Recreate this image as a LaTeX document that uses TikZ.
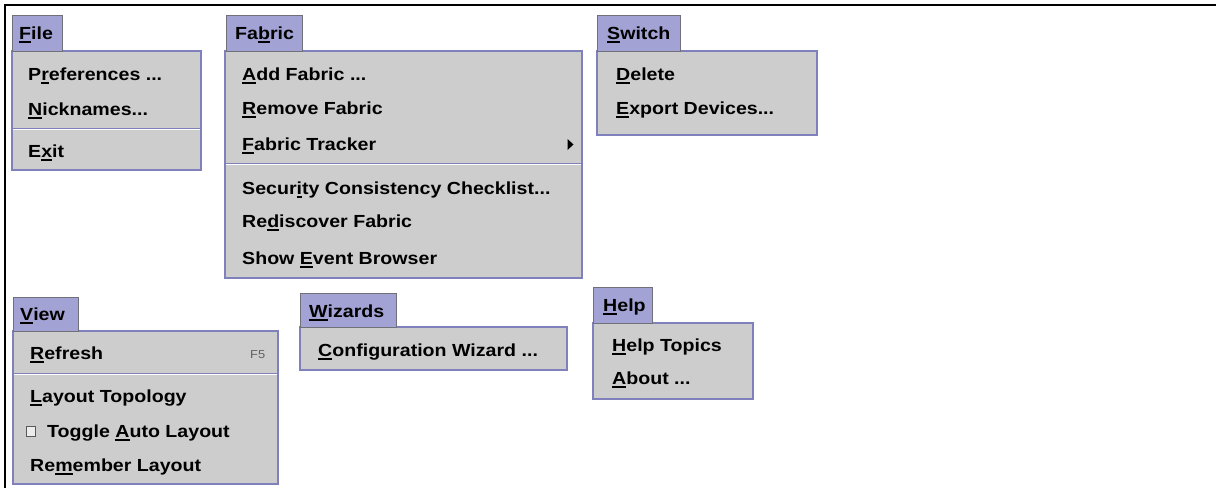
\documentclass[tikz,border=0pt]{standalone}
\usepackage{fontspec}
\newfontfamily\menufont{Liberation Sans}[FakeStretch=1.12]
\definecolor{tabfill}{RGB}{162,162,212}
\definecolor{tabedge}{RGB}{112,112,120}
\definecolor{panelfill}{RGB}{205,205,205}
\definecolor{paneledge}{RGB}{128,128,188}
\definecolor{accelgray}{RGB}{96,96,96}
% underlined mnemonic letter
\newcommand\mnem[1]{\setbox0=\hbox{#1}\rlap{\rule[-3.6pt]{\wd0}{1.4pt}}\box0}
\tikzset{
  tab/.style={draw=tabedge, fill=tabfill, line width=1pt},
  panel/.style={draw=paneledge, fill=panelfill, line width=1.2pt},
  sepline/.style={draw=paneledge, line width=1pt},
  seplight/.style={draw=white, line width=1pt},
  item/.style={anchor=base west, inner sep=0pt, text=black,
    font=\menufont\bfseries\fontsize{17.5}{20}\selectfont},
  accel/.style={anchor=base west, inner sep=0pt, text=accelgray,
    font=\menufont\fontsize{11.5}{13}\selectfont},
  frameline/.style={draw=black, line width=2pt}
}
\begin{document}
\begin{tikzpicture}[x=1pt,y=-1pt]
\useasboundingbox (0,0) rectangle (1216,488);
\fill[white] (0,0) rectangle (1216,488);
% outer frame (top and left edges)
\draw[frameline] (4,5) -- (1216,5);
\draw[frameline] (5,4) -- (5,488);

% ---------- File ----------
\draw[panel] (12,51) rectangle (201,170);
\draw[tab] (12,15) rectangle (62,51);
\draw[sepline] (13,128) -- (200,128);
\draw[seplight] (13,129.5) -- (200,129.5);
\node[item] (fileT) at (19,39) {\mnem{F}ile};
\node[item] (fileA) at (28,80) {P\mnem{r}eferences ...};
\node[item] (fileB) at (28,115) {\mnem{N}icknames...};
\node[item] (fileC) at (28,157) {E\mnem{x}it};

% ---------- Fabric ----------
\draw[panel] (225,51) rectangle (582,278);
\draw[tab] (226,15) rectangle (302,51);
\draw[sepline] (226,163) -- (581,163);
\draw[seplight] (226,164.5) -- (581,164.5);
\node[item] (fabT) at (235,39) {Fa\mnem{b}ric};
\node[item] (fabA) at (242,80) {\mnem{A}dd Fabric ...};
\node[item] (fabB) at (242,114) {\mnem{R}emove Fabric};
\node[item] (fabC) at (242,150) {\mnem{F}abric Tracker};
\node[item] (fabD) at (242,194) {Secur\mnem{i}ty Consistency Checklist...};
\node[item] (fabE) at (242,227) {Re\mnem{d}iscover Fabric};
\node[item] (fabF) at (242,264) {Show \mnem{E}vent Browser};
\fill[black] (567.5,139) -- (573.5,144.5) -- (567.5,150) -- cycle;

% ---------- Switch ----------
\draw[panel] (597,51) rectangle (817,135);
\draw[tab] (597,15) rectangle (680,51);
\node[item] (swT) at (607,39) {\mnem{S}witch};
\node[item] (swA) at (616,80) {\mnem{D}elete};
\node[item] (swB) at (616,114) {\mnem{E}xport Devices...};

% ---------- View ----------
\draw[panel] (13,331) rectangle (278,484);
\draw[tab] (13,297) rectangle (78,331);
\draw[sepline] (14,373) -- (277,373);
\draw[seplight] (14,374.5) -- (277,374.5);
\node[item] (viewT) at (20,320) {\mnem{V}iew};
\node[item] (viewA) at (30,359) {\mnem{R}efresh};
\node[accel] (viewK) at (250,358) {F5};
\node[item] (viewB) at (30,402) {\mnem{L}ayout Topology};
\draw[draw=gray!70!black, fill=gray!15, line width=0.8pt] (26,426) rectangle (35,436);
\node[item] (viewC) at (47,437) {Toggle \mnem{A}uto Layout};
\node[item] (viewD) at (30,471) {Re\mnem{m}ember Layout};

% ---------- Wizards ----------
\draw[panel] (300,327) rectangle (567,370);
\draw[tab] (300,293) rectangle (396,327);
\node[item] (wizT) at (309,317) {\mnem{W}izards};
\node[item] (wizA) at (318,356) {\mnem{C}onfiguration Wizard ...};

% ---------- Help ----------
\draw[panel] (593,323) rectangle (753,399);
\draw[tab] (593,287) rectangle (652,323);
\node[item] (helpT) at (603,311) {\mnem{H}elp};
\node[item] (helpA) at (612,351) {\mnem{H}elp Topics};
\node[item] (helpB) at (612,384) {\mnem{A}bout ...};
\end{tikzpicture}
\end{document}
